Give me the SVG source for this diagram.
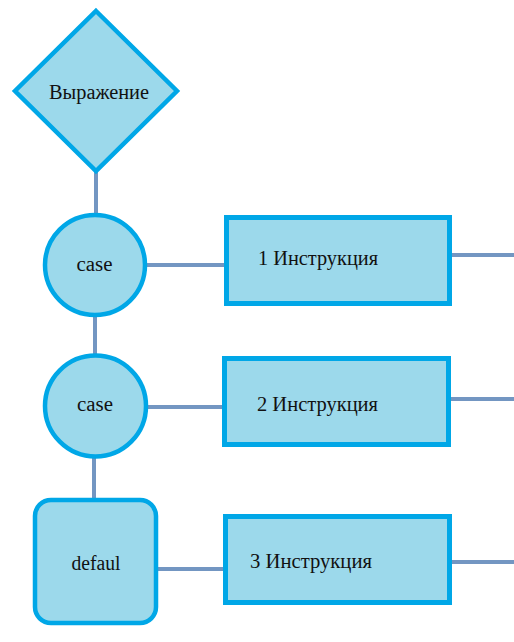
<svg xmlns="http://www.w3.org/2000/svg" width="514" height="642" viewBox="0 0 514 642">
<style>
.shape{fill:#9cd9eb;stroke:#00a7e7;stroke-width:4.5}
.conn{stroke:#7396c2;stroke-width:4;fill:none}
.c{text-anchor:middle}
</style>
<rect width="514" height="642" fill="#fff"/>
<g id="connectors">
<line class="conn" x1="96" y1="172" x2="96" y2="214"/>
<line class="conn" x1="95" y1="316" x2="95" y2="355"/>
<line class="conn" x1="94" y1="458" x2="94" y2="500"/>
<line class="conn" x1="146" y1="265" x2="226" y2="265"/>
<line class="conn" x1="147" y1="407" x2="224" y2="407"/>
<line class="conn" x1="157" y1="569" x2="225" y2="569"/>
<line class="conn" x1="451" y1="255" x2="514" y2="255"/>
<line class="conn" x1="450" y1="399" x2="514" y2="399"/>
<line class="conn" x1="451" y1="562" x2="514" y2="562"/>
</g>
<g font-family="Liberation Serif, DejaVu Serif, serif" font-size="20" fill="#111">
<g id="expr">
<polygon class="shape" points="96,11 177,91 96,171 15,91"/>
<text class="c" x="99" y="99" textLength="100" lengthAdjust="spacingAndGlyphs">Выражение</text>
</g>
<g id="case1">
<circle class="shape" cx="95" cy="265" r="50"/>
<text class="c" x="94.5" y="271" textLength="36" lengthAdjust="spacingAndGlyphs">case</text>
</g>
<g id="case2">
<circle class="shape" cx="95.5" cy="406" r="50.5"/>
<text class="c" x="95" y="411" textLength="36" lengthAdjust="spacingAndGlyphs">case</text>
</g>
<g id="default">
<rect class="shape" x="35" y="500" width="121" height="123" rx="16"/>
<text class="c" x="96" y="570" textLength="49" lengthAdjust="spacingAndGlyphs">defaul</text>
</g>
<g id="instr1">
<rect class="shape" x="226.5" y="217.5" width="223" height="86" style="stroke-width:5"/>
<text x="258" y="265" textLength="120" lengthAdjust="spacingAndGlyphs">1 Инструкция</text>
</g>
<g id="instr2">
<rect class="shape" x="224.5" y="358.5" width="224" height="86" style="stroke-width:5"/>
<text x="257" y="411" textLength="121" lengthAdjust="spacingAndGlyphs">2 Инструкция</text>
</g>
<g id="instr3">
<rect class="shape" x="225.5" y="516.5" width="224" height="86" style="stroke-width:5"/>
<text x="250" y="568" textLength="122" lengthAdjust="spacingAndGlyphs">3 Инструкция</text>
</g>
</g>
</svg>
